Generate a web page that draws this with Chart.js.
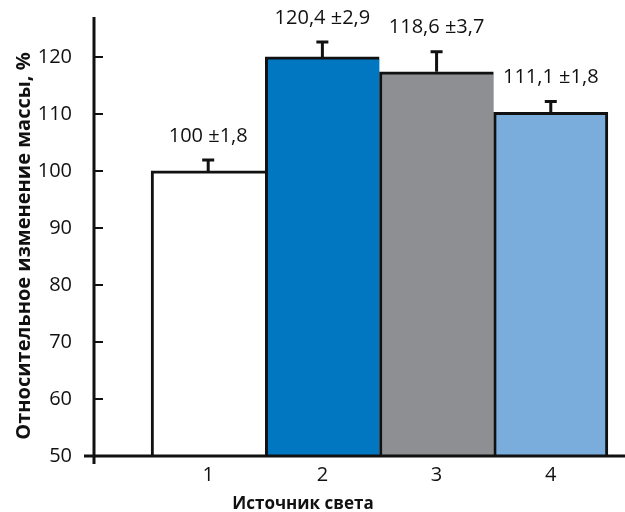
<!DOCTYPE html>
<html>
<head>
<meta charset="utf-8">
<script src="https://cdn.jsdelivr.net/npm/chart.js@4"></script>
<style>
  html, body { margin: 0; padding: 0; background: #fff; }
  canvas { display: block; }
</style>
</head>
<body>
<canvas id="c" width="625" height="512"></canvas>
<script>
// ---- data ----
const categories = [1, 2, 3, 4];
const xTickLabels = ['1', '2', '3', '4'];
const values = [100, 120.0, 117.4, 110.3];
const errors = [1.9, 2.6, 3.5, 1.9];
const valueLabels = ['100 \u00B11,8', '120,4 \u00B12,9', '118,6 \u00B13,7', '111,1 \u00B11,8'];
const yTicks = [50, 60, 70, 80, 90, 100, 110, 120];
const barColors = ['#ffffff', '#0077c0', '#8e8f93', '#7aaddc'];
const xTitle = 'Источник света';
const yTitle = 'Относительное изменение массы, %';

const FONT = "'Open Sans', 'Noto Sans', sans-serif";
const INK = '#111111';

const overlay = {
  id: 'overlay',
  afterDatasetsDraw(chart) {
    const ctx = chart.ctx;
    const xs = chart.scales.x, ys = chart.scales.y;
    const area = chart.chartArea;
    ctx.save();
    ctx.strokeStyle = INK;
    ctx.lineCap = 'butt';
    ctx.lineWidth = 3;
    categories.forEach((c, i) => {
      const x = xs.getPixelForValue(c);
      const yb = ys.getPixelForValue(values[i]);
      const yt = ys.getPixelForValue(values[i] + errors[i]);
      ctx.beginPath();
      ctx.moveTo(x, yb);
      ctx.lineTo(x, yt);
      ctx.moveTo(x - 6, yt);
      ctx.lineTo(x + 6, yt);
      ctx.stroke();
      ctx.fillStyle = INK;
      ctx.font = '20px ' + FONT;
      ctx.textAlign = 'center';
      ctx.textBaseline = 'middle';
      ctx.fillText(valueLabels[i], x, yt - 24);
    });
    ctx.lineWidth = 3;
    ctx.beginPath();
    ctx.moveTo(area.left, area.top);
    ctx.lineTo(area.left, area.bottom + 8);
    ctx.moveTo(area.left - 10, area.bottom);
    ctx.lineTo(area.right, area.bottom);
    ctx.stroke();
    ctx.lineWidth = 2;
    ctx.beginPath();
    yTicks.forEach(v => {
      if (v === ys.min) return;
      const y = ys.getPixelForValue(v);
      ctx.moveTo(area.left, y);
      ctx.lineTo(area.left + 9, y);
    });
    ctx.stroke();
    ctx.fillStyle = INK;
    ctx.textAlign = 'center';
    ctx.textBaseline = 'middle';
    ctx.font = 'bold 17px ' + FONT;
    ctx.fillText(xTitle, 303, 504);
    ctx.font = 'bold 20px ' + FONT;
    ctx.translate(24, 246);
    ctx.rotate(-Math.PI / 2);
    ctx.fillText(yTitle, 0, 0);
    ctx.restore();
  }
};

new Chart(document.getElementById('c'), {
  type: 'bar',
  data: {
    datasets: [{
      data: categories.map((c, i) => ({ x: c, y: values[i] })),
      backgroundColor: barColors,
      borderColor: INK,
      borderWidth: categories.map((c, i) => ({ top: 3, left: 3, right: i === categories.length - 1 ? 3 : 0, bottom: 0 })),
      borderSkipped: 'start',
      barPercentage: 1,
      categoryPercentage: 1
    }]
  },
  options: {
    responsive: false,
    animation: false,
    devicePixelRatio: 1,
    layout: { padding: { top: 17, left: 0, right: 0, bottom: 0 } },
    plugins: { legend: { display: false }, tooltip: { enabled: false } },
    scales: {
      x: {
        type: 'linear',
        offset: false,
        min: 0,
        max: 4.65,
        grid: { display: false },
        border: { display: false },
        afterBuildTicks: s => { s.ticks = categories.map(v => ({ value: v })); },
        afterFit: s => { s.height = 56; s.paddingLeft = 0; s.paddingRight = 0; },
        ticks: {
          color: INK,
          font: { family: FONT, size: 20 },
          padding: -1,
          maxRotation: 0,
          callback: (v) => xTickLabels[categories.indexOf(v)]
        }
      },
      y: {
        min: 50,
        max: 127,
        grid: { display: false },
        border: { display: false },
        afterBuildTicks: s => { s.ticks = yTicks.map(v => ({ value: v })); },
        afterFit: s => { s.width = 94; s.paddingTop = 0; s.paddingBottom = 0; },
        ticks: {
          color: INK,
          font: { family: FONT, size: 20 },
          padding: 14
        }
      }
    }
  },
  plugins: [overlay]
});
</script>
</body>
</html>
